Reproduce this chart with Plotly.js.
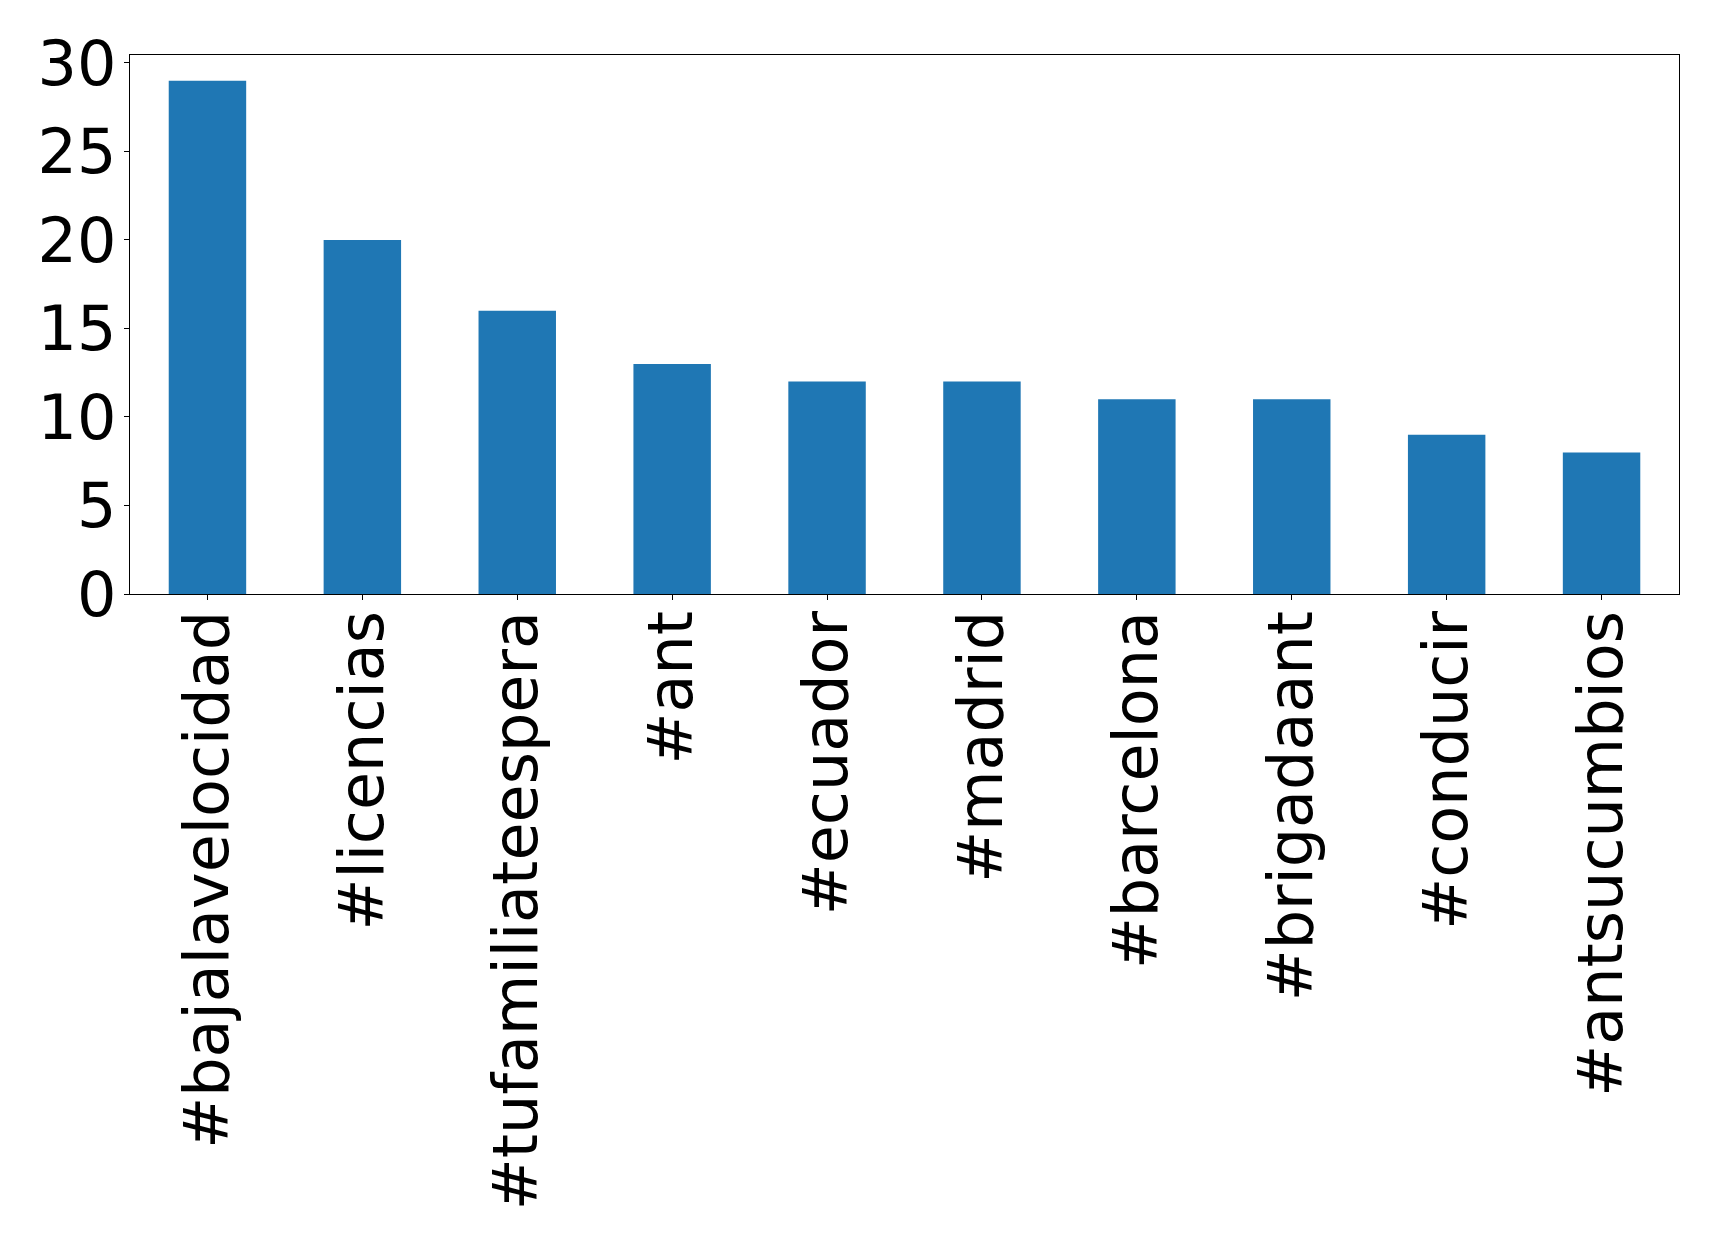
<!DOCTYPE html>
<html>
<head>
<meta charset="utf-8">
<script src="https://cdn.plot.ly/plotly-3.0.1.min.js"></script>
<style>html,body{margin:0;padding:0;background:#fff;}#chart{width:1719px;height:1248px;}</style>
</head>
<body>
<div id="chart"></div>
<script>
const categories = ["#bajalavelocidad", "#licencias", "#tufamiliateespera", "#ant", "#ecuador", "#madrid", "#barcelona", "#brigadaant", "#conducir", "#antsucumbios"];
const counts = [29, 20, 16, 13, 12, 12, 11, 11, 9, 8];
const yTickVals = [0, 5, 10, 15, 20, 25, 30];

const trace = {
  type: "bar",
  x: categories,
  y: counts,
  width: 0.5,
  marker: {color: "#1f77b4", line: {width: 0}},
  hoverinfo: "x+y"
};

const fontFam = "DejaVu Sans, sans-serif";
const layout = {
  width: 1719,
  height: 1248,
  margin: {l: 130, r: 40, t: 55, b: 654},
  paper_bgcolor: "#ffffff",
  plot_bgcolor: "#ffffff",
  showlegend: false,
  bargap: 0.5,
  xaxis: {
    type: "category",
    range: [-0.5, 9.5],
    tickangle: -90,
    tickfont: {family: fontFam, size: 62, color: "#000"},
    ticks: "outside",
    ticklen: 5,
    tickwidth: 1,
    tickcolor: "#000",
    showline: true,
    linecolor: "#000",
    linewidth: 1.2,
    mirror: true,
    showgrid: false,
    zeroline: false,
    ticklabelstandoff: -14
  },
  yaxis: {
    range: [0, 30.45],
    tickvals: yTickVals,
    ticktext: yTickVals.map(String),
    tickfont: {family: fontFam, size: 62, color: "#000"},
    ticks: "outside",
    ticklen: 5,
    tickwidth: 1,
    tickcolor: "#000",
    showline: true,
    linecolor: "#000",
    linewidth: 1.2,
    mirror: true,
    showgrid: false,
    zeroline: false,
    ticklabelstandoff: -5
  }
};

Plotly.newPlot("chart", [trace], layout, {displayModeBar: false, staticPlot: true});
</script>
</body>
</html>
